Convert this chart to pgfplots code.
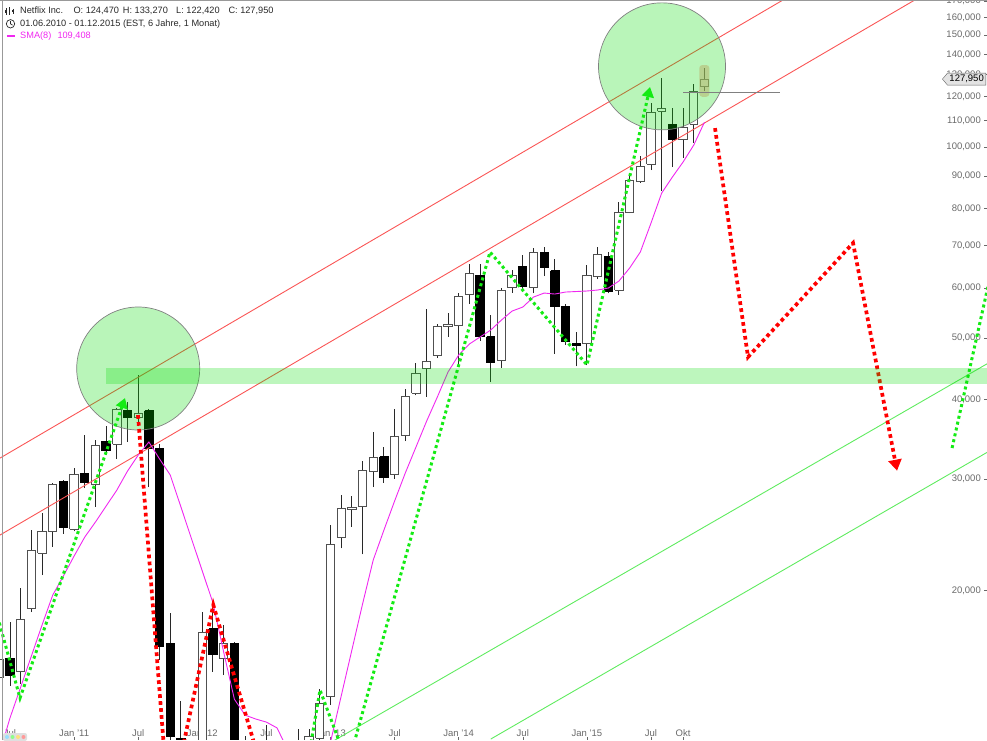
\documentclass[border=0pt]{standalone}
\usepackage{fontspec}
\setmainfont{Liberation Sans}
\usepackage{pgfplots}
\pgfplotsset{compat=1.18}
\usepackage{pgfplotstable}
\usetikzlibrary{arrows.meta,shapes.symbols}

\definecolor{tickc}{RGB}{105,105,105}
\definecolor{txtc}{RGB}{40,40,40}
\definecolor{bodyc}{RGB}{80,80,80}
\definecolor{wickc}{RGB}{40,40,40}
\definecolor{chanred}{RGB}{250,85,85}
\definecolor{changreen}{RGB}{95,235,95}
\definecolor{smac}{RGB}{240,40,240}
\definecolor{dotgreen}{RGB}{20,235,20}
\definecolor{dotred}{RGB}{255,0,0}
\definecolor{zonegreen}{RGB}{0,219,0}
\definecolor{khaki}{RGB}{185,180,110}

\newcommand{\tickfont}{\fontsize{9.5}{11}\selectfont}
\newcommand{\lgfont}{\fontsize{9.2}{11}\selectfont}

% monthly candles, m = months after Jul 2010
\pgfplotstableread{
m O H L C
-1 14.6 16.3 13.9 15.6
0 15.66 17.84 14.15 14.72
1 14.89 20.19 14.26 17.98
2 18.71 24.91 18.5 23.17
3 22.92 26.5 21.16 24.74
4 24.74 29.6 23.43 29.44
5 29.66 29.9 24.6 25.1
6 25.0 31.2 24.8 30.53
7 30.64 35.17 29.0 29.56
8 29.44 34.6 27.1 33.9
9 34.41 36.34 33.0 33.2
10 34.04 38.8 32.24 38.65
11 38.4 39.7 34.3 37.47
12 37.47 43.7 36.3 38.0
13 38.4 38.6 29.1 33.55
14 33.55 34.0 15.55 16.3
15 16.5 18.44 11.1 11.76
16 11.7 13.4 8.9 9.9
17 10.0 11.5 8.9 9.9
18 10.1 18.5 9.5 17.17
19 17.4 19.1 14.9 15.89
20 15.63 17.65 14.72 16.5
21 16.5 16.6 11.0 11.44
22 11.5 11.8 8.9 9.3
23 9.3 10.4 8.5 9.6
24 9.6 12.26 7.9 8.1
25 8.1 9.6 7.5 8.8
26 8.8 9.7 7.9 8.9
27 8.9 12.1 7.7 11.3
28 11.3 12.1 10.2 11.77
29 11.7 14.0 11.3 13.3
30 13.64 25.4 13.2 23.68
31 24.29 28.29 23.3 26.98
32 26.8 28.2 25.2 27.07
33 27.1 32.0 22.8 30.92
34 30.76 35.5 29.1 32.36
35 32.48 33.66 29.6 30.2
36 30.5 38.65 30.0 34.94
37 35.17 41.6 34.4 40.5
38 40.96 45.67 40.6 44.0
39 44.8 55.6 40.4 45.95
40 46.86 52.6 46.5 52.07
41 52.07 54.7 50.2 52.45
42 52.26 58.9 45.3 58.2
43 58.65 65.4 56.6 63.3
44 62.8 65.4 49.5 50.2
45 50.2 54.4 42.6 45.8
46 46.1 60.0 44.9 59.5
47 60.0 64.0 58.9 62.8
48 64.9 67.6 59.8 60.2
49 60.0 69.3 58.8 68.1
50 68.1 69.6 62.6 64.5
51 63.8 66.6 47.2 56.0
52 56.0 56.5 48.8 49.3
53 49.1 51.1 45.1 48.6
54 48.96 65.2 45.3 62.8
55 62.6 69.6 61.9 67.6
56 67.3 68.3 58.8 59.3
57 59.5 81.9 58.5 79.0
58 79.0 90.0 78.7 88.7
59 88.1 96.8 87.8 93.3
60 94.0 117.3 92.0 113.5
61 113.9 128.4 85.2 115.0
62 108.7 115.2 93.0 102.6
63 102.6 115.2 96.1 107.5
64 108.7 125.7 101.5 122.1
65 124.47 133.27 122.42 127.95
}\candles

% SMA(8)
\pgfplotstableread{
m v
-1 11.05
0 12.60
1 14.09
2 15.77
3 17.65
4 19.68
5 21.09
6 22.67
7 24.29
8 25.65
9 27.18
10 28.80
11 30.86
12 32.71
13 34.29
14 32.24
15 30.42
16 27.09
17 24.11
18 21.47
19 19.12
20 16.00
21 13.49
22 12.73
23 12.55
24 12.41
25 12.15
26 11.21
27 10.5
28 10.2
29 10.5
30 11.54
31 13.64
32 16.12
33 19.05
34 22.35
35 24.91
36 27.68
37 30.64
38 33.67
39 37.0
40 40.37
41 44.2
42 47.02
43 48.93
44 50.19
45 51.48
46 53.38
47 55.15
48 55.96
49 58.02
50 58.87
51 58.66
52 59.09
53 59.2
54 59.31
55 59.52
56 59.95
57 61.5
58 64.47
59 68.32
60 75.9
61 84.63
62 89.68
63 94.7
64 100.7
65 109.408
}\sma

\begin{document}
\begin{tikzpicture}
\path[use as bounding box] (0,0) rectangle (987pt,740pt);
\begin{axis}[
  at={(0,0)}, anchor=south west,
  width=987pt, height=740pt, scale only axis,
  xmin=-0.936, xmax=91.45,
  ymode=log, ymin=11.63, ymax=170.5,
  axis line style={draw=none},
  xtick={0,6,12,18,24,30,36,42,48,54,60,63},
  xticklabels={Jul,Jan '11,Jul,Jan '12,Jul,Jan '13,Jul,Jan '14,Jul,Jan '15,Jul,Okt},
  ytick={20,30,40,50,60,70,80,90,100,110,120,130,140,150,160,170},
  yticklabels={{20,000},{30,000},{40,000},{50,000},{60,000},{70,000},{80,000},{90,000},{100,000},{110,000},{120,000},{130,000},{140,000},{150,000},{160,000},{170,000}},
  ytick pos=right, yticklabel pos=right, xtick pos=bottom,
  tick align=inside,
  major tick length=3.5pt,
  minor tick num=0, yminorticks=false, xminorticks=false,
  tick style={tickc, line width=0.6pt},
  yticklabel style={anchor=east, inner sep=0pt, xshift=-6pt, font=\tickfont, text=tickc},
  xticklabel style={anchor=south, inner sep=0pt, yshift=3pt, font=\tickfont, text=tickc},
]
% candles
\pgfplotstablegetrowsof{\candles}
\pgfmathtruncatemacro{\lastrow}{\pgfplotsretval-1}
\pgfplotsforeachungrouped \rowidx in {0,...,\lastrow}{%
  \pgfplotstablegetelem{\rowidx}{m}\of{\candles}\let\cm\pgfplotsretval
  \pgfplotstablegetelem{\rowidx}{O}\of{\candles}\let\cO\pgfplotsretval
  \pgfplotstablegetelem{\rowidx}{H}\of{\candles}\let\cH\pgfplotsretval
  \pgfplotstablegetelem{\rowidx}{L}\of{\candles}\let\cL\pgfplotsretval
  \pgfplotstablegetelem{\rowidx}{C}\of{\candles}\let\cC\pgfplotsretval
  \pgfmathsetmacro{\xa}{\cm-0.39}%
  \pgfmathsetmacro{\xb}{\cm+0.39}%
  \pgfmathsetmacro{\up}{\cC>=\cO ? 1 : 0}%
  \edef\temp{%
    \noexpand\addplot[wickc, line width=1pt, forget plot] coordinates {(\cm,\cL) (\cm,\cH)};
    \noexpand\addplot[draw=\ifdim\up pt>0.5pt bodyc\else black\fi, fill=\ifdim\up pt>0.5pt white\else black\fi, line width=1pt, forget plot] coordinates {(\xa,\cO) (\xb,\cO) (\xb,\cC) (\xa,\cC) (\xa,\cO)};
  }\temp
}
% channel lines
\addplot[chanred, line width=0.9pt] coordinates {(-1,32.3) (73,173.0)};
\addplot[chanred, line width=0.9pt] coordinates {(-1,24.43) (85,171.7)};
\addplot[changreen, line width=0.9pt] coordinates {(30,11.52) (92,46.1)};
\addplot[changreen, line width=0.9pt] coordinates {(45,11.67) (92,33.43)};
% SMA
\addplot[smac, line width=0.9pt] table[x=m, y=v] {\sma};
% circles
\fill[zonegreen, fill opacity=0.275] (axis cs:12,44.77) circle[radius=61.5pt];
\draw[gray, line width=0.7pt] (axis cs:12,44.77) circle[radius=61.5pt];
\fill[zonegreen, fill opacity=0.275] (axis cs:61.03,134.0) circle[radius=63.5pt];
\draw[gray, line width=0.7pt] (axis cs:61.03,134.0) circle[radius=63.5pt];
% dotted projections
\addplot[dotgreen, line width=3pt, dash pattern=on 3pt off 3pt, -{Triangle[length=10pt,width=12pt]}] coordinates {(-1,17.8) (0.936,13.54) (10.765,40.22)};
\addplot[dotgreen, line width=3pt, dash pattern=on 3pt off 3pt, -{Triangle[length=10pt,width=12pt]}] coordinates {(27.9,10.81) (29.02,13.94) (31.64,10.62) (44.93,68.32) (54.01,45.34) (59.91,124.3)};
\addplot[dotgreen, line width=3pt, dash pattern=on 3pt off 3pt] coordinates {(88.18,33.55) (91.7,62.0)};
\addplot[dotred, line width=3.7pt, dash pattern=on 3.7pt off 3.3pt] coordinates {(11.98,37.82) (14.88,8.96) (19.03,18.98) (23.4,10.70)};
\addplot[dotred, line width=3.7pt, dash pattern=on 3.7pt off 3.3pt, -{Triangle[length=11pt,width=13pt]}] coordinates {(65.99,107.1) (69.08,46.68) (78.91,70.59) (83.03,30.9)};
% support band
\fill[zonegreen, fill opacity=0.26] (axis cs:9,42.32) rectangle (axis cs:92,44.85);
% last candle highlight and line
\fill[khaki, fill opacity=0.55, rounded corners=3pt] (axis cs:64.52,120.0) rectangle (axis cs:65.46,134.65);
\addplot[gray, line width=0.8pt] coordinates {(63.03,122.0) (72.1,122.0)};
% price tag
\node[signal, signal to=west, signal pointer angle=100, draw=gray!80!black, fill=gray!22, inner xsep=2pt, inner ysep=1.5pt, minimum height=12pt, anchor=east, font=\tickfont, text=black] at ([xshift=-1pt]axis cs:91.45,127.95) {127,950};
\end{axis}
% frame lines
\draw[gray!80, line width=0.8pt] (2.5pt,0) -- (2.5pt,740pt);
\draw[gray!80, line width=0.8pt] (0,739.6pt) -- (987pt,739.6pt);
% header texts
\begin{scope}[shift={(0,740pt)}, x=1pt, y=-1pt]
  % candle icon
  \draw[txtc, line width=0.6pt] (6,8.5) -- (6,15) (9.5,7.5) -- (9.5,15) (13,9) -- (13,14);
  \fill[txtc] (5.2,10.5) rectangle (6.8,13.5);
  \fill[txtc] (8.7,9.5) rectangle (10.3,12.5);
  \fill[txtc] (12.2,10.5) rectangle (13.8,12.5);
  % clock icon
  \draw[txtc, line width=0.7pt] (10.5,23.8) circle[radius=4.2];
  \draw[txtc, line width=0.7pt] (10.5,21.2) -- (10.5,23.8) -- (12.6,25.2);
  % SMA dash
  \draw[smac, line width=2pt] (7,36) -- (15,36);
  \node[anchor=base west, inner sep=0pt, font=\lgfont, text=txtc] at (20,14) {Netflix Inc.};
  \node[anchor=base west, inner sep=0pt, font=\lgfont, text=txtc] at (73.3,14) {O: 124,470};
  \node[anchor=base west, inner sep=0pt, font=\lgfont, text=txtc] at (122.7,14) {H: 133,270};
  \node[anchor=base west, inner sep=0pt, font=\lgfont, text=txtc] at (176,14) {L: 122,420};
  \node[anchor=base west, inner sep=0pt, font=\lgfont, text=txtc] at (228.3,14) {C: 127,950};
  \node[anchor=base west, inner sep=0pt, font=\lgfont, text=txtc] at (20,26.7) {01.06.2010 - 01.12.2015 (EST, 6 Jahre, 1 Monat)};
  \node[anchor=base west, inner sep=0pt, font=\lgfont, text=smac] at (20,38.3) {SMA(8)};
  \node[anchor=base west, inner sep=0pt, font=\lgfont, text=smac] at (57.3,38.3) {109,408};
  % bottom-left widget
  \fill[gray!25, rounded corners=2pt] (3,733) rectangle (27,741);
  \fill[blue!30!cyan!40] (7,737) circle[radius=2];
  \fill[green!45] (12.5,737) circle[radius=2];
  \fill[yellow!60!orange!50] (18,737) circle[radius=2];
  \fill[red!40] (23.5,737) circle[radius=2];
\end{scope}
\end{tikzpicture}
\end{document}
